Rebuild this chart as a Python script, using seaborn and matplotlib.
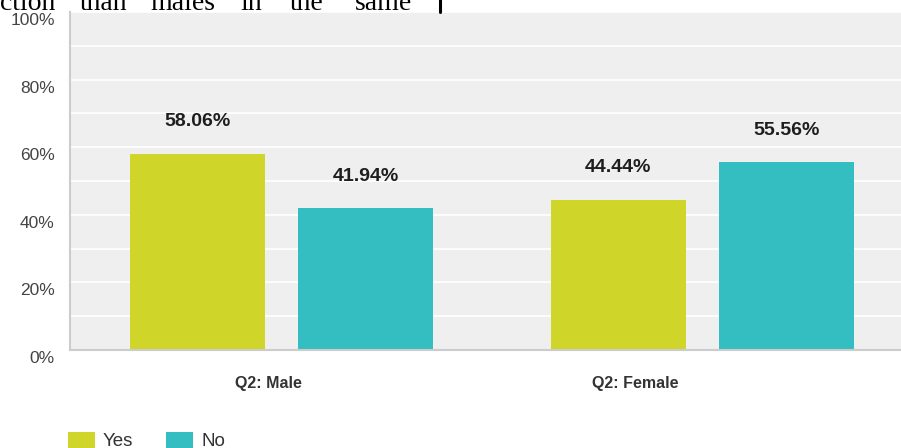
import matplotlib
matplotlib.use("Agg")
import matplotlib.pyplot as plt
import matplotlib.transforms as mtransforms
from matplotlib.lines import Line2D
from matplotlib.ticker import MultipleLocator
import seaborn as sns
import pandas as pd

# ---- data ----
groups = ["Q2: Male", "Q2: Female"]
answers = ["Yes", "No"]
yes_values = [58.06, 44.44]
no_values = [41.94, 55.56]
y_ticks = [0, 20, 40, 60, 80, 100]
y_tick_labels = ["0%", "20%", "40%", "60%", "80%", "100%"]
colors = ["#D0D52A", "#34BEC1"]
top_words = ["ction", "than", "males", "in", "the", "same"]
top_word_x = [0, 80, 150, 240, 290, 355]

df = pd.DataFrame({
    "group": groups * 2,
    "answer": [answers[0]] * len(groups) + [answers[1]] * len(groups),
    "value": yes_values + no_values,
})

sns.set_theme(style="white")
plt.rcParams["font.family"] = ["Liberation Sans", "DejaVu Sans"]

W, H = 901, 448
fig = plt.figure(figsize=(W / 100, H / 100), dpi=100)
ax = fig.add_axes([70 / W, 1 - 350 / H, (W - 70) / W, (350 - 12) / H])
ax.set_facecolor("#EFEFEF")

sns.barplot(data=df, x="group", y="value", hue="answer", order=groups,
            hue_order=answers, palette=colors, width=0.8, gap=0.2,
            linewidth=0, saturation=1, ax=ax, legend=True)

ax.set_xlim(-0.503, 1.472)
ax.set_ylim(0, 100)
ax.set_xlabel("")
ax.set_ylabel("")

# gridlines
ax.yaxis.set_major_locator(MultipleLocator(20))
ax.yaxis.set_minor_locator(MultipleLocator(10))
ax.grid(axis="y", which="both", color="white", linewidth=1.2)
ax.set_axisbelow(True)

ax.set_yticks(y_ticks)
ax.set_yticklabels(y_tick_labels)
ax.tick_params(axis="y", which="both", length=0, pad=11, labelsize=12.5, labelcolor="#444444")
ax.tick_params(axis="x", length=0, pad=19, labelsize=11.5, labelcolor="#333333")
for lab in ax.get_xticklabels():
    lab.set_fontweight("bold")

# label offsets as in the reference
off_y = mtransforms.ScaledTranslation(0, -7 / 100, fig.dpi_scale_trans)
for lab in ax.get_yticklabels():
    lab.set_transform(lab.get_transform() + off_y)
x_shifts = [-13, -67]
for lab, dx in zip(ax.get_xticklabels(), x_shifts):
    lab.set_transform(lab.get_transform() + mtransforms.ScaledTranslation(dx / 100, 0, fig.dpi_scale_trans))

for s in ["top", "right"]:
    ax.spines[s].set_visible(False)
for s in ["left", "bottom"]:
    ax.spines[s].set_color("#CCCCCC")
    ax.spines[s].set_linewidth(1.5)

# value labels
for cont in ax.containers:
    ax.bar_label(cont, fmt="%.2f%%", padding=17, fontsize=14,
                 fontweight="bold", color="#1E1E1E")

# legend
handles, labels = ax.get_legend_handles_labels()
ax.get_legend().remove()
fig.legend(handles, labels, loc="center left",
           bbox_to_anchor=(68 / W, 1 - 441 / H), ncol=2, frameon=False,
           fontsize=13.5, handlelength=1.45, handleheight=1.0,
           handletextpad=0.42, columnspacing=1.75, borderpad=0,
           borderaxespad=0, labelcolor="#333333")

# cropped document text above the chart
for w, xp in zip(top_words, top_word_x):
    fig.text(xp / W, 1 - 10 / H, w, fontsize=20, family=["Liberation Serif"],
             ha="left", va="baseline", color="black")
fig.add_artist(Line2D([439.5 / W, 439.5 / W], [1 - 12 / H, 1.0],
                      transform=fig.transFigure, color="black", linewidth=2.2))

fig.savefig("out.png", dpi=100)
